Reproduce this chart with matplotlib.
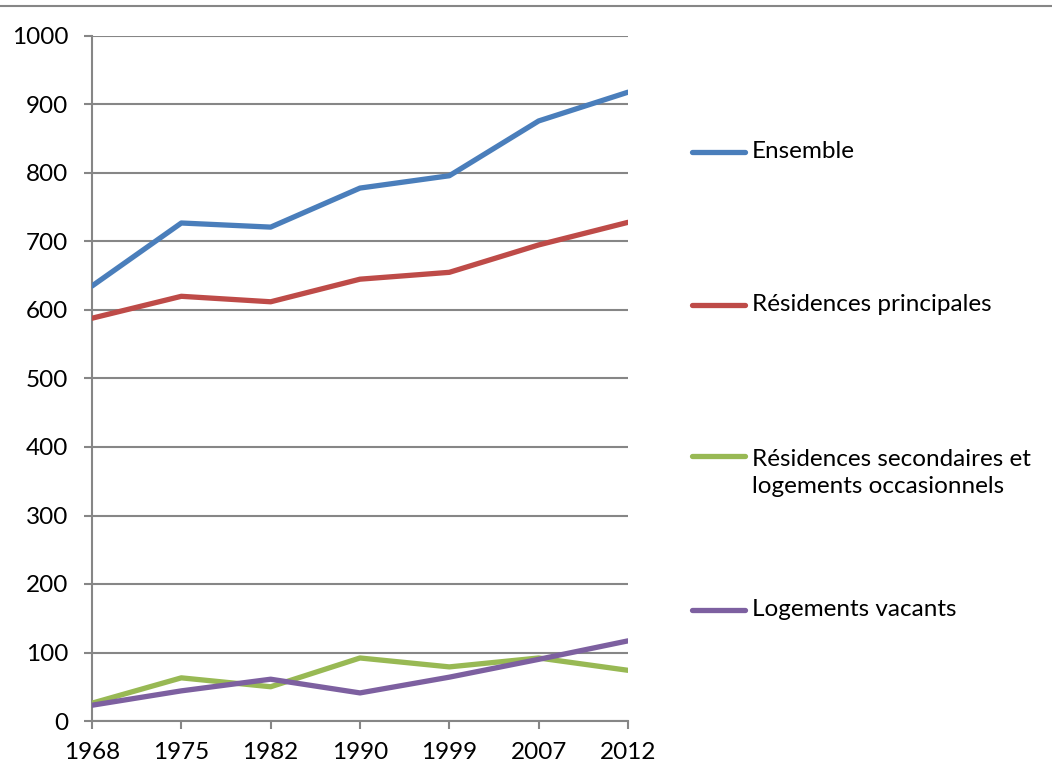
import matplotlib.pyplot as plt
from matplotlib.lines import Line2D

plt.rcParams['font.family'] = ['Lato', 'DejaVu Sans']

years = ['1968', '1975', '1982', '1990', '1999', '2007', '2012']
ensemble = [635, 727, 721, 778, 796, 876, 918]
principales = [588, 620, 612, 645, 655, 695, 728]
secondaires = [26, 63, 50, 92, 79, 92, 74]
vacants = [23, 44, 61, 41, 64, 90, 117]

labels = ['Ensemble', 'Résidences principales',
          'Résidences secondaires et\nlogements occasionnels', 'Logements vacants']
colors = ['#4A7EBB', '#BE4B48', '#98B954', '#7D60A0']
grid_col = '#868686'

fig = plt.figure(figsize=(10.52, 7.81), dpi=100)
ax = fig.add_axes([92 / 1052, 1 - 721 / 781, (628 - 92) / 1052, (721 - 36) / 781])

x = range(len(years))
for vals, c in zip([ensemble, principales, secondaires, vacants], colors):
    ax.plot(x, vals, color=c, lw=3.8, solid_capstyle='round', solid_joinstyle='round', zorder=3)

ax.set_xlim(0, len(years) - 1)
ax.set_ylim(0, 1000)
ax.set_xticks(list(x))
ax.set_xticklabels(years)
ax.set_yticks(range(0, 1001, 100))
ax.yaxis.grid(True, color=grid_col, lw=1.5)
ax.set_axisbelow(True)
for s in ['top', 'right']:
    ax.spines[s].set_visible(False)
for s in ['left', 'bottom']:
    ax.spines[s].set_color(grid_col)
    ax.spines[s].set_linewidth(1.5)
ax.tick_params(axis='both', colors=grid_col, width=1.5, length=6, labelsize=17.5,
               labelcolor='black')
ax.tick_params(axis='x', pad=9)
ax.tick_params(axis='y', pad=11)

# legend drawn by hand to follow the reference spacing
leg_y = [152, 305, 456, 610]
for lab, c, yy in zip(labels, colors, leg_y):
    fy = 1 - yy / 781
    fig.add_artist(Line2D([692 / 1052, 745 / 1052], [fy, fy], color=c, lw=3.8,
                          solid_capstyle='round', transform=fig.transFigure))
    ty = fy - (17 / 781 if '\n' in lab else 0)
    fig.text(752 / 1052, ty, lab, fontsize=17.5, va='center', ha='left',
             linespacing=1.35)

fig.add_artist(Line2D([0, 1], [1 - 6 / 781, 1 - 6 / 781], color=grid_col, lw=1.5,
                      transform=fig.transFigure))

fig.savefig('out.png', dpi=100)
